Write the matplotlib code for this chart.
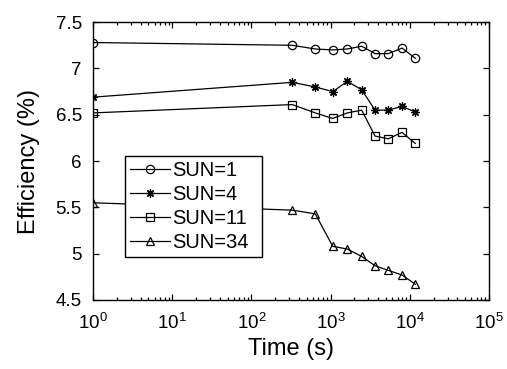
import matplotlib
matplotlib.use('Agg')
import matplotlib.pyplot as plt

plt.rcParams['font.family'] = ['Liberation Sans', 'DejaVu Sans']
plt.rcParams['mathtext.fontset'] = 'custom'
plt.rcParams['mathtext.rm'] = 'Liberation Sans'
plt.rcParams['mathtext.it'] = 'Liberation Sans'

# tiempos de medida (s)
tiempo = [1, 328, 641, 1063, 1625, 2470, 3640, 5350, 7980, 11740]

sun1 = [7.28, 7.25, 7.21, 7.20, 7.21, 7.24, 7.16, 7.16, 7.22, 7.11]
sun4 = [6.69, 6.85, 6.80, 6.75, 6.86, 6.77, 6.55, 6.55, 6.59, 6.53]
sun11 = [6.52, 6.61, 6.52, 6.46, 6.52, 6.55, 6.27, 6.24, 6.31, 6.19]
sun34 = [5.55, 5.47, 5.43, 5.08, 5.05, 4.97, 4.87, 4.82, 4.77, 4.67]

etiquetas = ['SUN=1', 'SUN=4', 'SUN=11', 'SUN=34']
marcadores = ['o', (8, 2, 0), 's', '^']

fig = plt.figure(figsize=(5.07, 3.69), dpi=100)
ax = fig.add_axes([0.1834, 0.187, 0.7811, 0.753])

for serie, etiqueta, m in zip([sun1, sun4, sun11, sun34], etiquetas, marcadores):
    ax.plot(tiempo, serie, color='black', linewidth=0.9, marker=m,
            markersize=6, markerfacecolor='none', markeredgecolor='black',
            markeredgewidth=0.9, label=etiqueta)

ax.set_xscale('log')
ax.set_xlim(1, 1e5)
ax.set_ylim(4.5, 7.5)
ax.set_yticks([4.5, 5, 5.5, 6, 6.5, 7, 7.5])
ax.set_yticklabels(['4.5', '5', '5.5', '6', '6.5', '7', '7.5'])

ax.tick_params(which='both', direction='in', top=True, right=True,
               labelsize=13.5, width=0.9)
ax.tick_params(which='major', length=4)
ax.tick_params(which='minor', length=2)
ax.tick_params(axis='y', pad=8)
ax.tick_params(axis='x', pad=9)
for s in ax.spines.values():
    s.set_linewidth(1.0)

ax.set_xlabel('Time (s)', fontsize=17, labelpad=4)
ax.set_ylabel('Efficiency (%)', fontsize=17, labelpad=11)

leg = ax.legend(loc='lower left', bbox_to_anchor=(0.081, 0.155, 0.346, 0.374),
                mode='expand', fontsize=14.5, frameon=True, fancybox=False,
                handlelength=2.0, handletextpad=0.1, labelspacing=0.25,
                borderpad=0.25, borderaxespad=0)
leg.get_frame().set_edgecolor('black')
leg.get_frame().set_linewidth(1.0)
leg.get_frame().set_alpha(1)

fig.savefig('out.png', dpi=100)
